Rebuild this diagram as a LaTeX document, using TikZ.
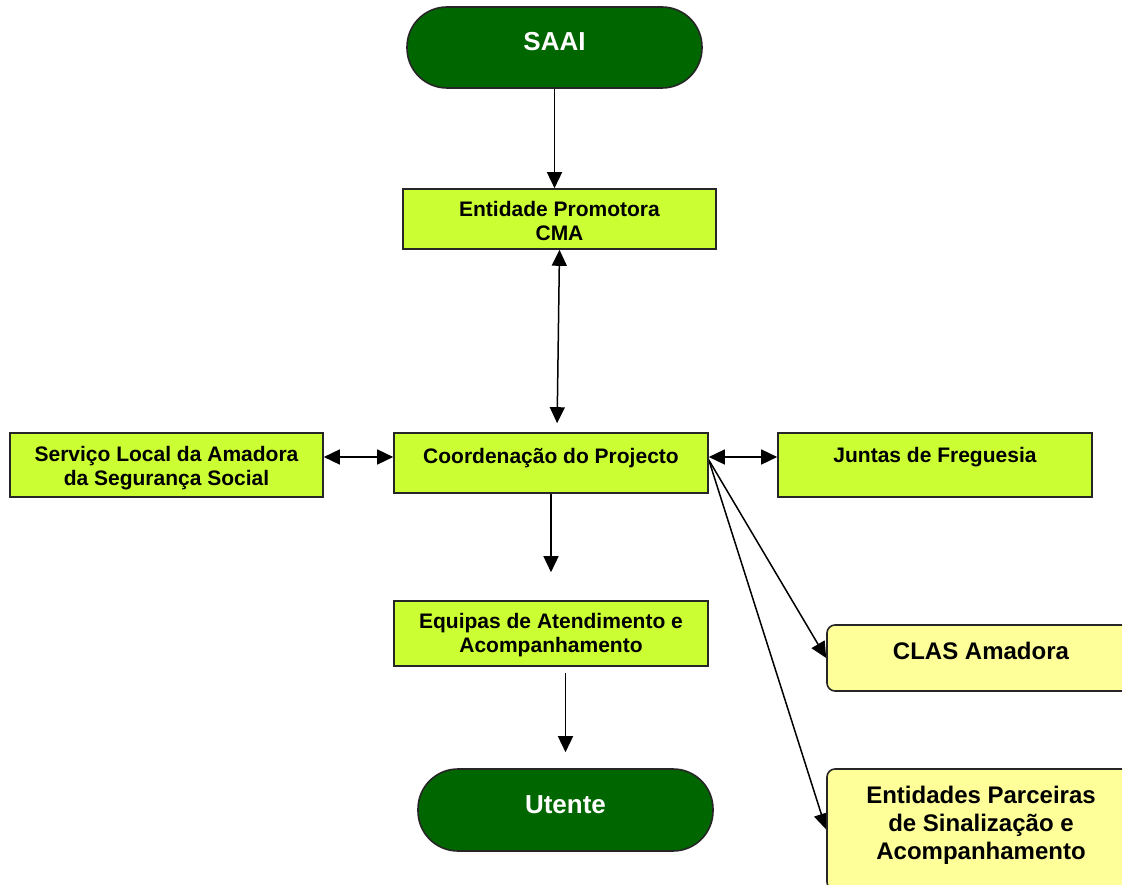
\documentclass[tikz,border=0pt]{standalone}
\usepackage{fontspec}
\setmainfont{Liberation Sans}
\usetikzlibrary{arrows.meta}
\pgfdeclarelayer{bg}
\pgfsetlayers{bg,main}
\definecolor{termgreen}{HTML}{006600}
\definecolor{boxlime}{HTML}{CCFF33}
\definecolor{boxyellow}{HTML}{FFFF99}
\tikzset{
    every node/.style={draw=black!85, line width=1.6pt, inner sep=0mm, align=center, font=\bfseries\fontsize{21}{24}\selectfont}
}
\tikzset{limebox/.style={rectangle, fill=boxlime, minimum width=314pt}}
\tikzset{termbox/.style={rectangle, rounded corners=40pt, fill=termgreen, text=white, minimum width=295pt, font=\bfseries\fontsize{26}{30}\selectfont, text height=19pt}}
\tikzset{sidebox/.style={rectangle, rounded corners=8pt, fill=boxyellow, minimum width=308pt, font=\bfseries\fontsize{24}{28}\selectfont}}
\tikzset{link/.style={line width=1.5pt, -{Triangle[length=16pt,width=15pt]}}}
\tikzset{link2/.style={line width=1.5pt, {Triangle[length=16pt,width=15pt]}-{Triangle[length=16pt,width=15pt]}}}

\begin{document}
\begin{tikzpicture}[x=1pt, y=-1pt]
        \useasboundingbox (0,0) rectangle (1122,885);
        \clip (0,0) rectangle (1122,885);
        \node (saai) [termbox, minimum height=81pt, text depth=12pt] at (554.5, 47.5) {SAAI};
        \node (cma) [limebox, minimum width=313pt, minimum height=60pt, text height=44pt, text depth=0pt] at (559.5, 219) {Entidade Promotora\\CMA};
        \node (coord) [limebox, minimum height=60pt, text height=15pt, text depth=15pt] at (551, 463) {Coordenação do Projecto};
        \node (servico) [limebox, minimum width=313pt, minimum height=64pt, text height=44pt, text depth=4pt] at (166.5, 465) {Serviço Local da Amadora\\da Segurança Social};
        \node (juntas) [limebox, minimum height=64pt, text height=15pt, text depth=20pt] at (935, 465) {Juntas de Freguesia};
        \node (equipas) [limebox, minimum height=65pt, text height=42pt, text depth=5pt] at (551, 633.5) {Equipas de Atendimento e\\Acompanhamento};
        \node (utente) [termbox, minimum height=82pt, text depth=13pt] at (565.5, 810) {Utente};
        \node (clas) [sidebox, minimum height=66pt, text height=17pt, text depth=15pt] at (981, 658) {CLAS Amadora};
        \node (parc) [sidebox, minimum height=121pt, text height=64pt, text depth=5pt] at (981, 829.5) {Entidades Parceiras\\de Sinalização e\\Acompanhamento};
        \begin{pgfonlayer}{bg}
                \draw [link] (saai.south) -- (saai.south |- cma.north);
                \draw [link2, shorten >=9pt] (cma.south) -- ([xshift=6pt]coord.north);
                \draw [link2] ([yshift=6pt]coord.west) -- ([yshift=6pt]coord.west -| servico.east);
                \draw [link2] ([yshift=6pt]coord.east) -- ([yshift=6pt]coord.east -| juntas.west);
                \draw [link, shorten >=28pt] (coord.south) -- (equipas.north);
                \draw [link, shorten <=6pt, shorten >=16pt] (utente.north |- equipas.south) -- (utente.north);
                \draw [link] ([yshift=3pt]coord.east) -- (clas.west);
                \draw [link] ([yshift=3pt]coord.east) -- (parc.west);
        \end{pgfonlayer}
\end{tikzpicture}
\end{document}
